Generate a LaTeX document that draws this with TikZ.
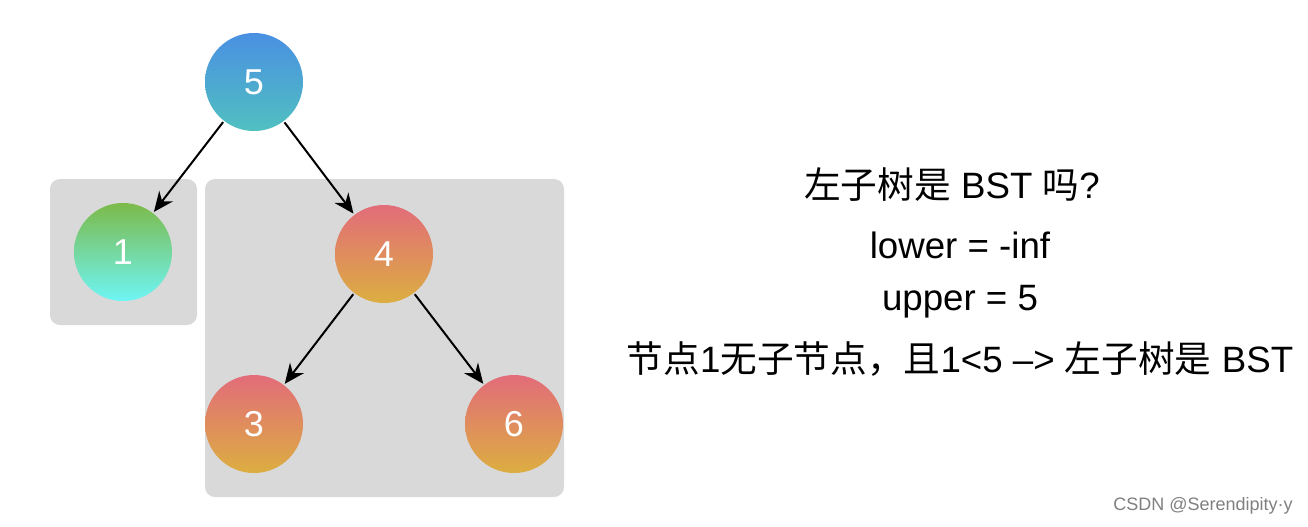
\documentclass[tikz,border=0pt]{standalone}
\usepackage{fontspec}
\setmainfont{Liberation Sans}
\newfontfamily\cjk{Noto Sans CJK SC}
\usetikzlibrary{arrows.meta}
\definecolor{boxg}{HTML}{D9D9D9}
\tikzset{
 tn/.style={circle,minimum size=73.5pt,inner sep=0pt,text=white,font=\fontsize{27}{27}\selectfont},
 edge/.style={-{Stealth[length=15pt,width=13pt]},line width=1.5pt,shorten >=1pt,shorten <=1pt},
 txt/.style={font=\fontsize{27.5}{27.5}\selectfont}
}
\begin{document}
\begin{tikzpicture}[x=0.75pt,y=-0.75pt]
\definecolor{c1}{HTML}{4A90E2}\definecolor{c2}{HTML}{50C0C0}
\definecolor{g1}{HTML}{7CBA4A}\definecolor{g2}{HTML}{6EF5F5}
\definecolor{r1}{HTML}{E26C7A}\definecolor{r2}{HTML}{DCAE40}
\useasboundingbox (0,0) rectangle (1308,526);
\fill[white] (0,0) rectangle (1308,526);
\fill[boxg,rounded corners=7.5pt] (50,179) rectangle (197,325);
\fill[boxg,rounded corners=7.5pt] (205,179) rectangle (564,497);
\node[tn,top color=c1,bottom color=c2] (n5) at (254,82) {5};
\node[tn,top color=g1,bottom color=g2] (n1) at (123,252) {1};
\node[tn,top color=r1,bottom color=r2] (n4) at (384,254) {4};
\node[tn,top color=r1,bottom color=r2] (n3) at (254,424) {3};
\node[tn,top color=r1,bottom color=r2] (n6) at (514,424) {6};
\draw[edge] (n5) -- (n1);
\draw[edge] (n5) -- (n4);
\draw[edge] (n4) -- (n3);
\draw[edge] (n4) -- (n6);
\node[txt] (t1) at (952,185) {{\cjk 左子树是} BST {\cjk 吗}?};
\node[txt] (t2) at (960,245) {lower = -inf};
\node[txt] (t3) at (960,302) {upper = 5};
\node[txt] (t4) at (960,359) {{\cjk 节点}1{\cjk 无子节点，且}1<5 –> {\cjk 左子树是} BST};
\node[font=\fontsize{13.5}{13.5}\selectfont,text=gray] (w) at (1203,506) {CSDN @Serendipity·y};
\end{tikzpicture}
\end{document}
